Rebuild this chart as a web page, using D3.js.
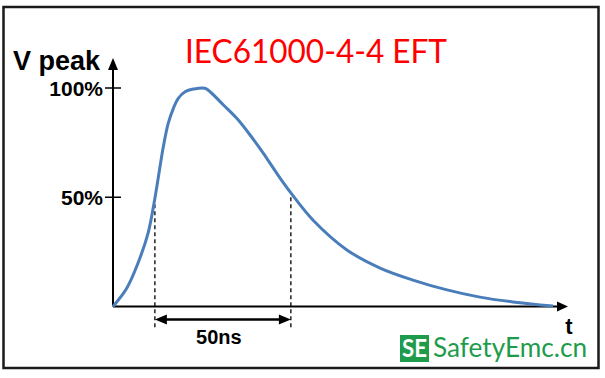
<!DOCTYPE html>
<html>
<head>
<meta charset="utf-8">
<script src="https://cdn.jsdelivr.net/npm/d3@7"></script>
<style>
  body { margin: 0; background: #fff; }
  svg { display: block; }
</style>
</head>
<body>
<script>
const width = 605
const height = 378

// pulse shape (time in ns, voltage in % of peak)
const timeNs = [0, 5.1, 9.2, 12.9, 15.1, 16.7, 18.5, 20.3, 22.2, 24.0, 26.5, 29.5, 33.8, 36.3, 40.6, 45.5, 50.4, 55.3, 60.2, 65.4, 73.5, 86, 98.2, 110.3, 122.8, 134.9, 147, 161.8]
const voltPct = [0, 8.5, 19.9, 33.6, 47.4, 59.4, 73.1, 83.8, 90.7, 95.3, 98.3, 99.5, 99.9, 97.6, 92.2, 86.1, 78.5, 70.1, 61, 52, 39.6, 25.9, 17.6, 12.1, 7.6, 4.3, 2.1, 0.2]
const halfPoints = [15.4, 65.4]       // 50% crossings
const yTicks = [50, 100]
const yTickLabels = ['50%', '100%']
const titleText = 'IEC61000-4-4 EFT'
const widthLabel = '50ns'

let svg = d3.select('body').append('svg')
    .attr('width', width)
    .attr('height', height)

let x = d3.scaleLinear().domain([0, 167.3]).range([113, 568])
let y = d3.scaleLinear().domain([0, 100]).range([306.5, 88])

// frame
svg.append('rect')
    .attr('x', 3.5).attr('y', 7)
    .attr('width', 595).attr('height', 361)
    .attr('fill', 'none')
    .attr('stroke', '#1a1a1a')
    .attr('stroke-width', 2.5)

// title
svg.append('text')
    .attr('x', 316).attr('y', 63)
    .attr('text-anchor', 'middle')
    .attr('font-family', 'Lato, "Open Sans", sans-serif')
    .attr('font-size', 32)
    .attr('fill', '#ff0000')
    .attr('textLength', 262)
    .attr('lengthAdjust', 'spacingAndGlyphs')
    .text(titleText)

// axes
let x0 = x(0), y0 = y(0)
svg.append('line')
    .attr('x1', x0).attr('y1', y0)
    .attr('x2', x0).attr('y2', 68)
    .attr('stroke', '#000').attr('stroke-width', 2)
svg.append('path')
    .attr('d', `M${x0},58 L${x0 - 5},70 L${x0 + 5},70 Z`)
    .attr('fill', '#000')

svg.append('line')
    .attr('x1', x0).attr('y1', y0)
    .attr('x2', 558).attr('y2', y0)
    .attr('stroke', '#000').attr('stroke-width', 2)
svg.append('path')
    .attr('d', `M568,${y0} L557,${y0 - 5} L557,${y0 + 5} Z`)
    .attr('fill', '#000')

// y ticks + labels
let tickG = svg.append('g')
tickG.selectAll('line')
    .data(yTicks)
    .join('line')
    .attr('x1', x0 - 8).attr('x2', x0 + 8)
    .attr('y1', d => y(d)).attr('y2', d => y(d))
    .attr('stroke', '#000').attr('stroke-width', 1.5)
tickG.selectAll('text')
    .data(yTicks)
    .join('text')
    .attr('x', 103)
    .attr('y', d => y(d) + 8)
    .attr('text-anchor', 'end')
    .attr('font-family', '"Liberation Sans", Arial, sans-serif')
    .attr('font-weight', 'bold')
    .attr('font-size', 21)
    .attr('fill', '#000')
    .text((d, i) => yTickLabels[i])

// axis titles
svg.append('text')
    .attr('x', 13).attr('y', 70)
    .attr('font-family', '"Liberation Sans", Arial, sans-serif')
    .attr('font-weight', 'bold')
    .attr('font-size', 27)
    .text('V peak')
svg.append('text')
    .attr('x', 569).attr('y', 334)
    .attr('text-anchor', 'middle')
    .attr('font-family', '"Liberation Sans", Arial, sans-serif')
    .attr('font-weight', 'bold')
    .attr('font-size', 22)
    .text('t')

// dashed markers at 50%
svg.selectAll('.half')
    .data(halfPoints)
    .join('line')
    .attr('class', 'half')
    .attr('x1', d => x(d)).attr('x2', d => x(d))
    .attr('y1', y(50)).attr('y2', y0 + 22)
    .attr('stroke', '#000')
    .attr('stroke-width', 1.3)
    .attr('stroke-dasharray', '4,3')

// pulse width double arrow
let ax1 = x(halfPoints[0]), ax2 = x(halfPoints[1]), ay = 319.5
svg.append('line')
    .attr('x1', ax1 + 8).attr('y1', ay)
    .attr('x2', ax2 - 8).attr('y2', ay)
    .attr('stroke', '#000').attr('stroke-width', 2.5)
svg.append('path')
    .attr('d', `M${ax1},${ay} L${ax1 + 12},${ay - 5} L${ax1 + 12},${ay + 5} Z M${ax2},${ay} L${ax2 - 12},${ay - 5} L${ax2 - 12},${ay + 5} Z`)
    .attr('fill', '#000')
svg.append('text')
    .attr('x', (ax1 + ax2) / 2 - 4).attr('y', 344)
    .attr('text-anchor', 'middle')
    .attr('font-family', '"Liberation Sans", Arial, sans-serif')
    .attr('font-weight', 'bold')
    .attr('font-size', 20)
    .text(widthLabel)

// the pulse
let line = d3.line()
    .x((d, i) => x(timeNs[i]))
    .y((d, i) => y(voltPct[i]))
    .curve(d3.curveCatmullRom.alpha(0.5))
svg.append('path')
    .attr('d', line(timeNs))
    .attr('fill', 'none')
    .attr('stroke', '#4a7ebb')
    .attr('stroke-width', 3)
    .attr('stroke-linejoin', 'round')

// logo
svg.append('rect')
    .attr('x', 400).attr('y', 335)
    .attr('width', 29).attr('height', 27)
    .attr('fill', '#1e9c4c')
svg.append('text')
    .attr('x', 414.5).attr('y', 357)
    .attr('text-anchor', 'middle')
    .attr('font-family', 'Lato, sans-serif')
    .attr('font-weight', 'bold')
    .attr('font-size', 24)
    .attr('fill', '#fff')
    .attr('textLength', 25)
    .attr('lengthAdjust', 'spacingAndGlyphs')
    .text('SE')
svg.append('text')
    .attr('x', 433).attr('y', 357)
    .attr('font-family', 'Lato, sans-serif')
    .attr('font-size', 26)
    .attr('fill', '#1e9c4c')
    .attr('textLength', 154)
    .attr('lengthAdjust', 'spacingAndGlyphs')
    .text('SafetyEmc.cn')
</script>
</body>
</html>
